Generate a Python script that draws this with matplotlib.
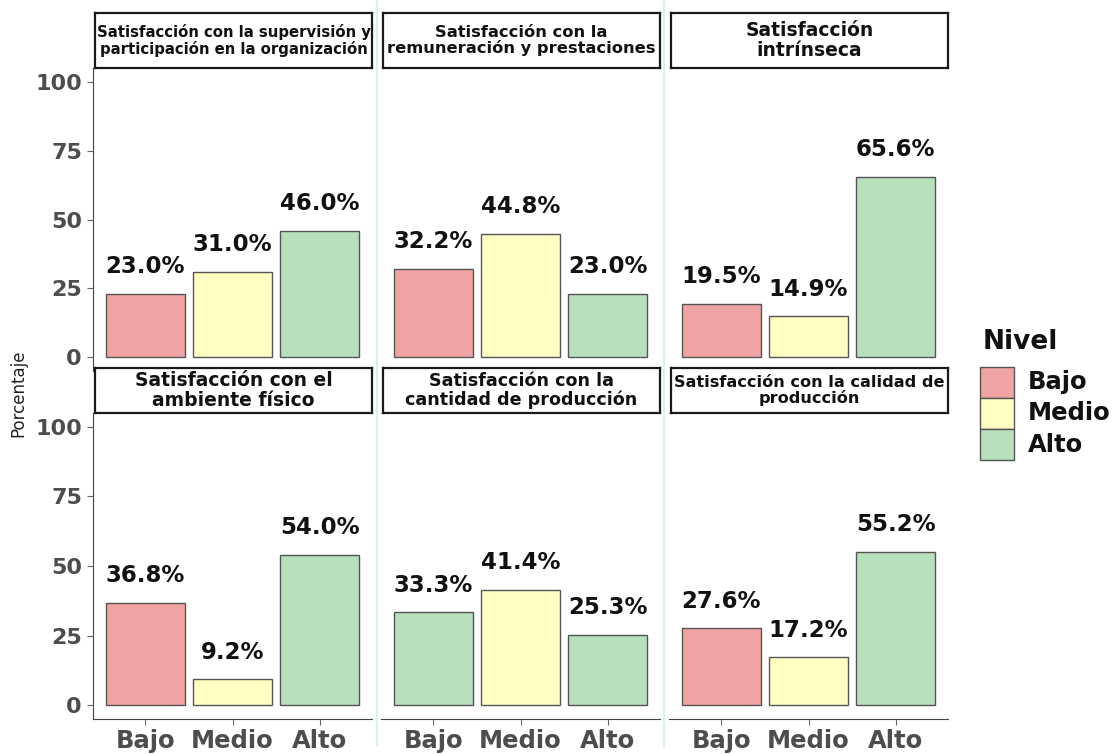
import matplotlib
matplotlib.use("Agg")
import matplotlib.pyplot as plt
from matplotlib.patches import Rectangle
from matplotlib.lines import Line2D

W, H = 1115, 754

# --- data ---
titles = [
    "Satisfacción con la supervisión y\nparticipación en la organización",
    "Satisfacción con la\nremuneración y prestaciones",
    "Satisfacción\nintrínseca",
    "Satisfacción con el\nambiente físico",
    "Satisfacción con la\ncantidad de producción",
    "Satisfacción con la calidad de\nproducción",
]
niveles = ["Bajo", "Medio", "Alto"]
bajo = [23.0, 32.2, 19.5, 36.8, 33.3, 27.6]
medio = [31.0, 44.8, 14.9, 9.2, 41.4, 17.2]
alto = [46.0, 23.0, 65.6, 54.0, 25.3, 55.2]
# fill level used for each bar (panel 5 "Bajo" is drawn green in the original)
fill_bajo = ["Bajo", "Bajo", "Bajo", "Bajo", "Alto", "Bajo"]
fill_medio = ["Medio"] * 6
fill_alto = ["Alto"] * 6

colores = {"Bajo": "#F0A3A3", "Medio": "#FFFDC2", "Alto": "#B7E0BC"}
title_sizes = [10.7, 11.7, 13.5, 13.5, 12.6, 11.6]

fig = plt.figure(figsize=(W / 100, H / 100), dpi=100)


def px_axes(x0, y0, x1, y1):
    return fig.add_axes([x0 / W, 1 - y1 / H, (x1 - x0) / W, (y1 - y0) / H])


col_x = [93, 381, 669]
col_w = 279
rows_y = [(68, 371), (413, 719)]
strip_y = [(13, 68), (368, 413)]

# faint separators between columns
for xs in (377, 664):
    fig.add_artist(Line2D([xs / W, xs / W], [0.01, 1.0], color="#D6ECEF", lw=1.2))

tick_gray = "#4D4D4D"

for i in range(6):
    r, c = divmod(i, 3)
    x0 = col_x[c]
    y0, y1 = rows_y[r]
    ax = px_axes(x0, y0, x0 + col_w, y1)
    vals = [bajo[i], medio[i], alto[i]]
    fills = [colores[fill_bajo[i]], colores[fill_medio[i]], colores[fill_alto[i]]]
    pos = list(range(len(niveles)))
    ax.bar(pos, vals, width=0.9, color=fills, edgecolor="#555555", linewidth=1.0)
    for p, v in zip(pos, vals):
        ax.annotate(f"{v:.1f}%", (p, v), xytext=(0, 27), textcoords="offset pixels",
                    ha="center", va="center", fontsize=16.5, fontweight="bold",
                    color="#111111")
    ax.set_xlim(-0.6, 2.6)
    ax.set_ylim(-5, 105)
    for s in ax.spines.values():
        s.set_visible(False)
    ax.set_facecolor("none")

    if c == 0:
        ax.spines["left"].set_visible(True)
        ax.spines["left"].set_color("#444444")
        ax.set_yticks([0, 25, 50, 75, 100])
        ax.tick_params(axis="y", length=4, color="#666666", pad=4,
                       labelsize=16, labelcolor=tick_gray)
        for t in ax.get_yticklabels():
            t.set_fontweight("bold")
    else:
        ax.set_yticks([])

    if r == 1:
        ax.spines["bottom"].set_visible(True)
        ax.spines["bottom"].set_color("#444444")
        ax.set_xticks(pos)
        ax.set_xticklabels(niveles, fontweight="bold")
        ax.tick_params(axis="x", length=4, color="#666666", pad=3,
                       labelsize=17.5, labelcolor=tick_gray)
    else:
        ax.set_xticks([])

    # strip
    sy0, sy1 = strip_y[r]
    sx = px_axes(x0 + 2, sy0, x0 + col_w, sy1)
    sx.set_xticks([])
    sx.set_yticks([])
    for s in sx.spines.values():
        s.set_color("#1a1a1a")
        s.set_linewidth(1.6)
    sx.text(0.5, 0.5, titles[i], ha="center", va="center", fontsize=title_sizes[i],
            fontweight="bold", color="#111111", linespacing=1.05,
            transform=sx.transAxes, clip_on=True)

fig.text(18 / W, 1 - 393 / H, "Porcentaje", rotation=90, ha="center", va="center",
         fontsize=12, color="#222222")

# legend
fig.text(983 / W, 1 - 342 / H, "Nivel", ha="left", va="center",
         fontsize=19, fontweight="bold", color="#111111")
key_top = 367
key_h = 31
for k, lvl in enumerate(niveles):
    yt = key_top + k * key_h
    fig.add_artist(Rectangle((980 / W, 1 - (yt + key_h) / H), 34 / W, key_h / H,
                             transform=fig.transFigure, facecolor=colores[lvl],
                             edgecolor="#555555", lw=1.0))
    fig.text(1028 / W, 1 - (yt + key_h / 2) / H, lvl, ha="left", va="center",
             fontsize=17.5, fontweight="bold", color="#111111")

fig.savefig("out.png", dpi=100)
